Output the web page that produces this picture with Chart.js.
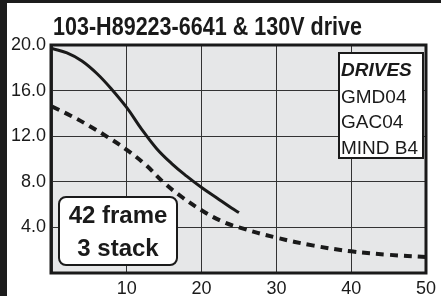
<html>
   <head>
      <script src="https://cdn.jsdelivr.net/npm/chart.js@4.4.1/dist/chart.umd.min.js"></script>
   </head>
   <style>
      html,
      body {
         margin: 0;
         background: #ffffff;
      }

      .graph {
         width: 441px;
         height: 296px;
      }
   </style>

   <body>
      <div class="graph" id="graph">
         <canvas id="myChart"></canvas>
      </div>
   </body>
   <script>
      // values
      const titleText = "103-H89223-6641 & 130V drive";
      const drivesTitle = "DRIVES";
      const drivesList = ["GMD04", "GAC04", "MIND B4"];
      const motorLabel = ["42 frame", "3 stack"];

      const solidSpeed = [0, 2, 4, 6, 8, 10, 12, 14, 16, 18, 20, 22, 24, 25];
      const solidTorque = [19.7, 19.3, 18.6, 17.5, 16.1, 14.5, 12.6, 10.9, 9.6, 8.5, 7.5, 6.6, 5.7, 5.3];

      const dashSpeed = [0, 2.5, 5, 7.5, 10, 12.5, 15, 17.5, 20, 22.5, 25, 30, 35, 40, 45, 50];
      const dashTorque = [14.6, 13.8, 12.9, 11.9, 10.8, 9.5, 7.9, 6.6, 5.5, 4.6, 4.0, 3.1, 2.4, 1.9, 1.6, 1.4];

      const xTicks = [0, 10, 20, 30, 40, 50];
      const yTicks = [0, 4, 8, 12, 16, 20];

      let myChart;

      const pts = (xs, ys) => xs.map((x, i) => ({ x: x, y: ys[i] }));

      const decor = {
         id: "decor",
         beforeDraw(chart) {
            const ctx = chart.ctx;
            const a = chart.chartArea;
            ctx.save();
            ctx.fillStyle = "#ffffff";
            ctx.fillRect(0, 0, chart.width, chart.height);
            ctx.fillStyle = "#e6e7e8";
            ctx.fillRect(a.left, a.top, a.right - a.left, a.bottom - a.top);
            ctx.restore();
         },
         afterDraw(chart) {
            const ctx = chart.ctx;
            const a = chart.chartArea;
            ctx.save();

            // page bars
            ctx.fillStyle = "#1c1c1c";
            ctx.fillRect(0, 0, 7, chart.height);
            ctx.fillRect(0, 0, chart.width, 3);

            // plot frame
            ctx.strokeStyle = "#1a1a1a";
            ctx.lineWidth = 3;
            ctx.strokeRect(a.left - 1, a.top, a.right - a.left + 1, a.bottom - a.top);

            // title, narrow bold
            ctx.fillStyle = "#1a1a1a";
            ctx.font = "bold 25px 'Liberation Sans', Arial, sans-serif";
            const w = ctx.measureText(titleText).width;
            ctx.save();
            ctx.translate(53, 35);
            ctx.scale(309 / w, 1);
            ctx.textBaseline = "alphabetic";
            ctx.fillText(titleText, 0, 0);
            ctx.restore();

            // drives box
            ctx.fillStyle = "#ffffff";
            ctx.fillRect(339, 53, 84, 105);
            ctx.lineWidth = 2;
            ctx.strokeRect(339, 53, 84, 105);
            ctx.fillStyle = "#1a1a1a";
            ctx.textAlign = "left";
            ctx.textBaseline = "alphabetic";
            ctx.font = "italic bold 19px 'Liberation Sans', Arial, sans-serif";
            ctx.fillText(drivesTitle, 341, 76);
            ctx.font = "19px 'Liberation Sans', Arial, sans-serif";
            const base = [103, 128, 154];
            drivesList.forEach((t, i) => ctx.fillText(t, 341, base[i]));

            // motor box
            ctx.beginPath();
            ctx.roundRect(59, 197, 118, 68, 7);
            ctx.fillStyle = "#ffffff";
            ctx.fill();
            ctx.lineWidth = 2;
            ctx.stroke();
            ctx.fillStyle = "#1a1a1a";
            ctx.textAlign = "center";
            ctx.font = "bold 24px 'Liberation Sans', Arial, sans-serif";
            ctx.fillText(motorLabel[0], 118, 223);
            ctx.fillText(motorLabel[1], 118, 256);

            ctx.restore();
         },
      };

      const config = {
         type: "line",
         data: {
            datasets: [
               {
                  label: "torque",
                  data: pts(solidSpeed, solidTorque),
                  borderColor: "#1a1a1a",
                  borderWidth: 3,
                  pointRadius: 0,
                  tension: 0.4,
               },
               {
                  label: "pull-out",
                  data: pts(dashSpeed, dashTorque),
                  borderColor: "#1a1a1a",
                  borderWidth: 4,
                  borderDash: [8, 6],
                  pointRadius: 0,
                  tension: 0.4,
               },
            ],
         },
         options: {
            responsive: true,
            maintainAspectRatio: false,
            devicePixelRatio: 1,
            animation: false,
            layout: {
               padding: { left: 0, right: 11, top: 45, bottom: 0 },
            },
            plugins: {
               legend: { display: false },
               tooltip: { enabled: false },
            },
            scales: {
               x: {
                  type: "linear",
                  min: 0,
                  max: 50,
                  afterFit: (s) => {
                     s.height = 23;
                  },
                  afterBuildTicks: (s) => {
                     s.ticks = xTicks.map((v) => ({ value: v }));
                  },
                  border: { display: false },
                  grid: { color: "#333333", lineWidth: 1, drawTicks: false },
                  ticks: {
                     padding: 5,
                     maxRotation: 0,
                     color: "#1a1a1a",
                     font: { family: "'Liberation Sans', Arial, sans-serif", size: 18 },
                     callback: (v) => (v === 0 ? "" : v),
                  },
               },
               y: {
                  min: 0,
                  max: 20,
                  afterFit: (s) => {
                     s.width = 52;
                  },
                  afterBuildTicks: (s) => {
                     s.ticks = yTicks.map((v) => ({ value: v }));
                  },
                  border: { display: false },
                  grid: { color: "#333333", lineWidth: 1, drawTicks: false },
                  ticks: {
                     padding: 6,
                     color: "#1a1a1a",
                     font: { family: "'Liberation Sans', Arial, sans-serif", size: 18 },
                     callback: (v) => (v === 0 ? "" : v.toFixed(1)),
                  },
               },
            },
         },
         plugins: [decor],
      };

      myChart = new Chart(document.getElementById("myChart"), config);
   </script>
</html>
